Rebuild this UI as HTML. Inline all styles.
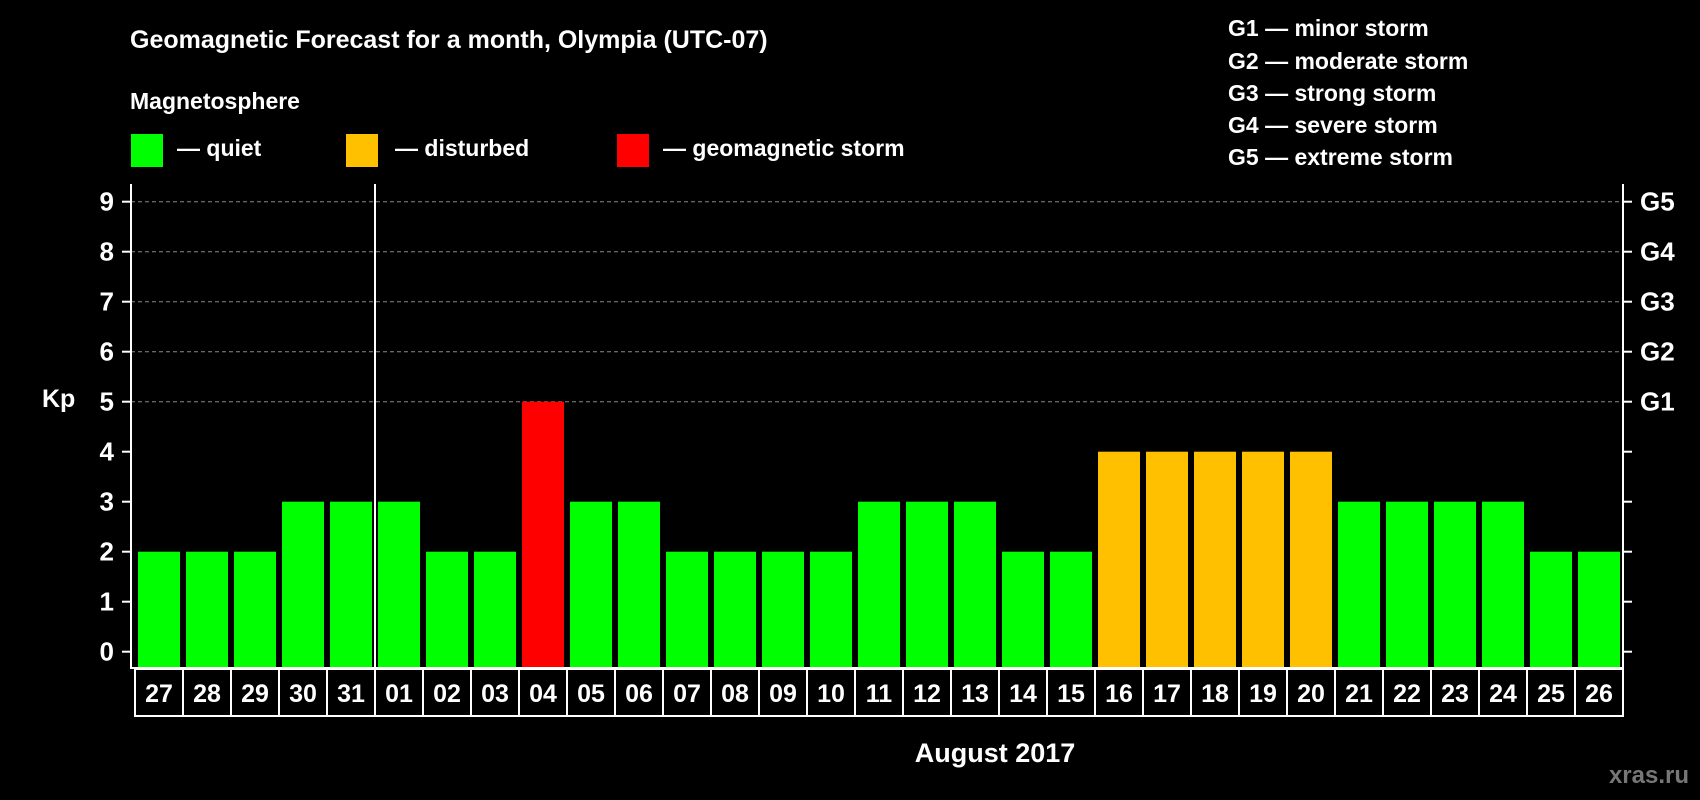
<!DOCTYPE html>
<html><head><meta charset="utf-8"><style>
html,body{margin:0;padding:0;background:#000;}
svg{display:block;font-family:"Liberation Sans",sans-serif;font-weight:bold;}
</style></head><body>
<svg width="1700" height="800" viewBox="0 0 1700 800">
<rect width="1700" height="800" fill="#000"/>
<text x="130" y="48" fill="#fff" font-size="25">Geomagnetic Forecast for a month, Olympia (UTC-07)</text>
<text x="130" y="109" fill="#fff" font-size="23">Magnetosphere</text>
<g><rect x="131" y="134" width="32" height="33" fill="#00ff00"/><text x="177" y="156" fill="#fff" font-size="23">— quiet</text></g>
<g><rect x="346" y="134" width="32" height="33" fill="#ffc000"/><text x="395" y="156" fill="#fff" font-size="23">— disturbed</text></g>
<g><rect x="617" y="134" width="32" height="33" fill="#ff0000"/><text x="663" y="156" fill="#fff" font-size="23">— geomagnetic storm</text></g>
<g fill="#fff" font-size="23">
<text x="1228" y="36">G1 — minor storm</text>
<text x="1228" y="69">G2 — moderate storm</text>
<text x="1228" y="101">G3 — strong storm</text>
<text x="1228" y="133">G4 — severe storm</text>
<text x="1228" y="165">G5 — extreme storm</text>
</g>
<text x="42" y="407" fill="#fff" font-size="25">Kp</text>
<text x="995" y="762" fill="#fff" font-size="27" text-anchor="middle">August 2017</text>
<text x="1689" y="783" fill="#777" font-size="24" text-anchor="end">xras.ru</text>
<g id="plot"></g>
</svg>
<script>
const days=["27","28","29","30","31","01","02","03","04","05","06","07","08","09","10","11","12","13","14","15","16","17","18","19","20","21","22","23","24","25","26"];
const kp=[2,2,2,3,3,3,2,2,5,3,3,2,2,2,2,3,3,3,2,2,4,4,4,4,4,3,3,3,3,2,2];
const yTicks=[0,1,2,3,4,5,6,7,8,9];
const gLabels={5:"G1",6:"G2",7:"G3",8:"G4",9:"G5"};
const NS="http://www.w3.org/2000/svg";
const g=document.getElementById('plot');
const L=131,R=1623,T=184,B=668,band0=135,pitch=48;
const y=v=>651.7-v*50;
const x=i=>band0+i*pitch;
function mk(t,a){const e=document.createElementNS(NS,t);for(const k in a)e.setAttribute(k,a[k]);g.appendChild(e);return e;}
yTicks.forEach(v=>{
  if(v>=5){const l=mk('line',{x1:L,x2:R,y1:y(v),y2:y(v),stroke:'#888','stroke-dasharray':'4,3','stroke-width':1});
  
  }
  const t1=mk('line',{x1:L-9,x2:L,y1:y(v),y2:y(v),stroke:'#fff','stroke-width':2});
  
  
  const t2=mk('line',{x1:R,x2:R+9,y1:y(v),y2:y(v),stroke:'#fff','stroke-width':2});
  
  
  const tl=mk('text',{x:114,y:y(v)+9,fill:'#fff','font-size':26,'text-anchor':'end'});tl.textContent=v;
  
  
  if(gLabels[v]){const gl=mk('text',{x:1640,y:y(v)+9,fill:'#fff','font-size':26});gl.textContent=gLabels[v];
  
  }
});
kp.forEach((v,i)=>{
  const c=v>=5?'#ff0000':(v>=4?'#ffc000':'#00ff00');
  const b=mk('rect',{x:x(i)+3,y:y(v),width:42,height:B-y(v),fill:c});
  
  
  const cell=mk('rect',{x:x(i),y:B+1,width:pitch,height:47,fill:'none',stroke:'#fff','stroke-width':2});
  
  
  const t=mk('text',{x:x(i)+pitch/2,y:B+34,fill:'#fff','font-size':25,'text-anchor':'middle'});t.textContent=days[i];
  
  
});
const ax=mk('path',{d:`M${L} ${T} V${B} H${R} V${T}`,fill:'none',stroke:'#fff','stroke-width':2});


const ml=mk('line',{x1:x(5),x2:x(5),y1:T,y2:B,stroke:'#fff','stroke-width':2});


</script>
</body></html>
